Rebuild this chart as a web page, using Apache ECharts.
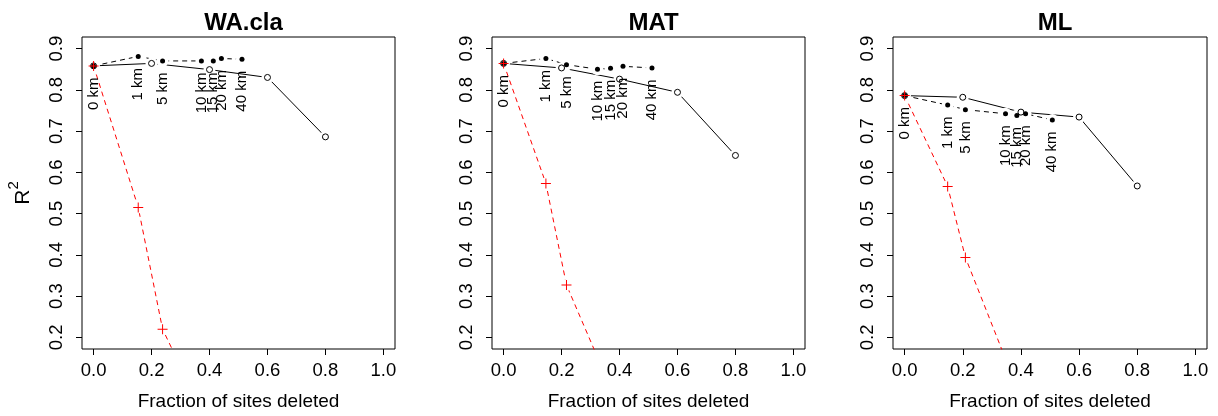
<!DOCTYPE html>
<html>
<head>
<meta charset="UTF-8">
<title>R2 vs fraction of sites deleted</title>
<style>
    html, body { margin: 0; padding: 0; background: #fff; }
    #chartArea { width: 1218px; height: 416px; }
</style>
</head>
<body>
<div id="chartArea"></div>
<script src="https://cdn.jsdelivr.net/npm/echarts@6/dist/echarts.min.js"></script>
<script>
// tick labels
var xTicks = [0, 0.2, 0.4, 0.6, 0.8, 1.0];
var yTicks = [0.2, 0.3, 0.4, 0.5, 0.6, 0.7, 0.8, 0.9];
var kmLabels = ['0 km', '1 km', '5 km', '10 km', '15 km', '20 km', '40 km'];
var panelTitles = ['WA.cla', 'MAT', 'ML'];

// random deletion (open circles, solid line)
var randX = [0, 0.2, 0.4, 0.6, 0.8];

// WA.cla
var waDistX = [0, 0.154, 0.238, 0.372, 0.413, 0.441, 0.512];
var waDistY = [0.858, 0.881, 0.870, 0.870, 0.870, 0.876, 0.874];
var waRandY = [0.858, 0.864, 0.849, 0.830, 0.686];
var waRedY  = [0.858, 0.515, 0.220, 0.024];

// MAT
var matDistX = [0, 0.146, 0.217, 0.324, 0.369, 0.412, 0.512];
var matDistY = [0.864, 0.876, 0.861, 0.850, 0.852, 0.857, 0.853];
var matRandY = [0.864, 0.853, 0.826, 0.794, 0.641];
var matRedY  = [0.864, 0.573, 0.327, 0.152];

// ML
var mlDistX = [0, 0.148, 0.209, 0.347, 0.386, 0.416, 0.508];
var mlDistY = [0.786, 0.763, 0.752, 0.742, 0.738, 0.742, 0.727];
var mlRandY = [0.786, 0.782, 0.746, 0.734, 0.567];
var mlRedY  = [0.786, 0.566, 0.394, 0.148];

var panels = [
    {distX: waDistX, distY: waDistY, randY: waRandY, redY: waRedY},
    {distX: matDistX, distY: matDistY, randY: matRandY, redY: matRedY},
    {distX: mlDistX, distY: mlDistY, randY: mlRandY, redY: mlRedY}
];

function zip(xs, ys) {
    return ys.map(function (y, i) { return [xs[i], y]; });
}

var FONT = 'Liberation Sans, Arial, sans-serif';
var CROSS = 'path://M-0.5,-5h1v10h-1zM-5,-0.5h10v1h-10z';
var gridLefts = [82, 492, 893];
var gridWidths = [313, 313, 314];

var grids = [], xAxes = [], yAxes = [], titles = [], series = [];

panels.forEach(function (p, i) {
    var rand = zip(randX, p.randY);
    var dist = zip(p.distX, p.distY);
    var red = zip(p.distX, p.redY);

    grids.push({
        left: gridLefts[i], top: 37, width: gridWidths[i], height: 313,
        show: true, borderColor: '#000', borderWidth: 1, backgroundColor: 'transparent'
    });
    titles.push({
        text: panelTitles[i],
        left: gridLefts[i] + gridWidths[i] / 2,
        top: 6,
        textAlign: 'center',
        textStyle: {fontFamily: FONT, fontSize: 24, fontWeight: 'bold', color: '#000'}
    });
    xAxes.push({
        type: 'value', gridIndex: i, min: -0.04, max: 1.04,
        name: 'Fraction of sites deleted', nameLocation: 'middle', nameGap: 43,
        nameTextStyle: {fontFamily: FONT, fontSize: 19, color: '#000'},
        axisLine: {show: false, onZero: false},
        splitLine: {show: false},
        axisTick: {show: true, inside: false, length: 6, customValues: xTicks,
                   lineStyle: {color: '#000'}},
        axisLabel: {show: true, margin: 12, customValues: xTicks,
                    fontFamily: FONT, fontSize: 18.5, color: '#000',
                    formatter: function (v) { return v.toFixed(1); }}
    });
    yAxes.push({
        type: 'value', gridIndex: i, min: 0.172, max: 0.928,
        name: i === 0 ? '{r|R}{s|2}' : '', nameLocation: 'middle', nameGap: 48, nameRotate: 90,
        nameTextStyle: {
            fontFamily: FONT, color: '#000',
            rich: {
                r: {fontFamily: FONT, fontSize: 21, color: '#000', lineHeight: 28, verticalAlign: 'bottom'},
                s: {fontFamily: FONT, fontSize: 15, color: '#000', lineHeight: 28, verticalAlign: 'top'}
            }
        },
        axisLine: {show: false, onZero: false},
        splitLine: {show: false},
        axisTick: {show: true, inside: false, length: 6, customValues: yTicks,
                   lineStyle: {color: '#000'}},
        axisLabel: {show: true, margin: 16, rotate: 90, customValues: yTicks,
                    fontFamily: FONT, fontSize: 18.5, color: '#000',
                    formatter: function (v) { return v.toFixed(1); }}
    });

    // lines only (R type "b": gaps around the points come from the white masks below)
    series.push({
        type: 'line', xAxisIndex: i, yAxisIndex: i, data: rand,
        showSymbol: false, lineStyle: {color: '#000', width: 1}, z: 1
    });
    series.push({
        type: 'line', xAxisIndex: i, yAxisIndex: i, data: dist,
        showSymbol: false, lineStyle: {color: '#000', width: 1, type: [5, 4]}, z: 1
    });
    series.push({
        type: 'line', xAxisIndex: i, yAxisIndex: i, data: red,
        showSymbol: false, lineStyle: {color: '#ff0000', width: 1, type: [5, 4]}, z: 1
    });

    // white masks round every point
    series.push({
        type: 'scatter', xAxisIndex: i, yAxisIndex: i, silent: true,
        data: rand.concat(dist, red), symbol: 'circle', symbolSize: 12,
        itemStyle: {color: '#fff', opacity: 1}, z: 2
    });

    // markers
    series.push({
        type: 'scatter', xAxisIndex: i, yAxisIndex: i, data: rand,
        symbol: 'circle', symbolSize: 6,
        itemStyle: {color: '#fff', borderColor: '#000', borderWidth: 1, opacity: 1}, z: 3
    });
    series.push({
        type: 'scatter', xAxisIndex: i, yAxisIndex: i, data: dist,
        symbol: 'circle', symbolSize: 5, itemStyle: {color: '#000', opacity: 1},
        label: {
            show: true, position: 'bottom', distance: 9,
            rotate: 90, align: 'right', verticalAlign: 'middle',
            fontFamily: FONT, fontSize: 15, color: '#000', opacity: 1,
            formatter: function (d) { return kmLabels[d.dataIndex]; }
        },
        z: 4
    });
    series.push({
        type: 'scatter', xAxisIndex: i, yAxisIndex: i, data: red,
        symbol: CROSS, symbolSize: 10, itemStyle: {color: '#ff0000', opacity: 1}, z: 5
    });
});

var myChart = echarts.init(document.getElementById('chartArea'));
myChart.setOption({
    animation: false,
    backgroundColor: '#fff',
    title: titles,
    grid: grids,
    xAxis: xAxes,
    yAxis: yAxes,
    series: series
});
</script>
</body>
</html>
